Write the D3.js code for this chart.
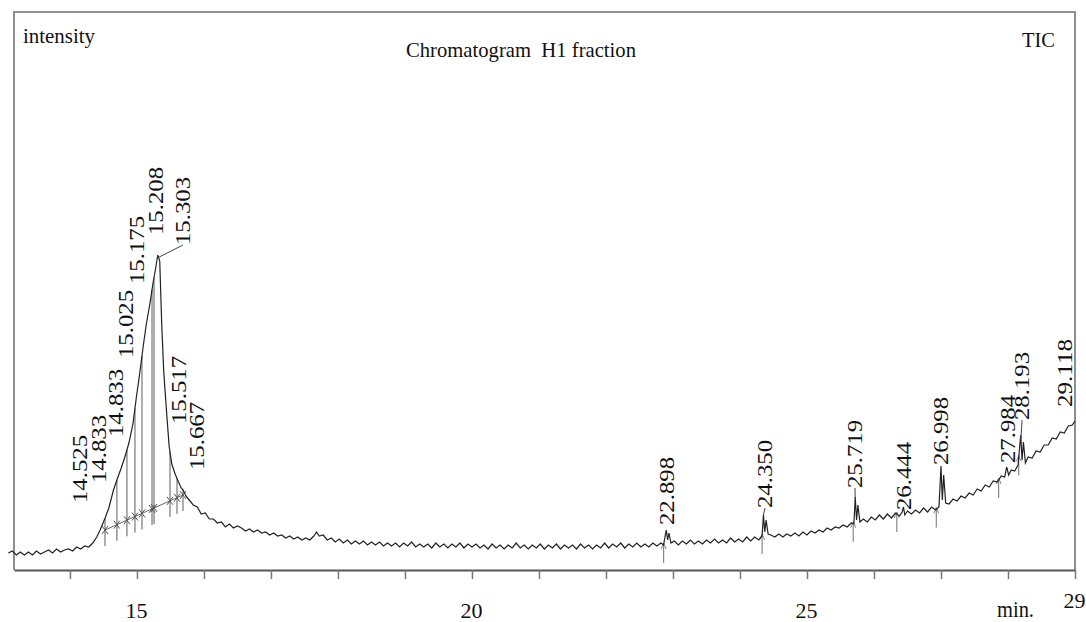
<!DOCTYPE html>
<html>
<head>
<meta charset="utf-8">
<script src="https://cdn.jsdelivr.net/npm/d3@7"></script>
<style>
  body { margin: 0; background: #fff; }
  svg { display: block; }
</style>
</head>
<body>
<svg id="chart" width="1086" height="622"></svg>
<script>
// TIC trace: [retention time (min), intensity (arb. units)]
const trace = [
  [13.08,17],[13.14,19],[13.20,15],[13.26,18],[13.32,15],[13.38,18],[13.44,15],[13.50,19],[13.56,16],[13.62,18],
  [13.68,20],[13.74,17],[13.80,21],[13.86,18],[13.92,20],[13.98,21],[14.04,19],[14.10,23],[14.16,21],[14.22,24],
  [14.28,23],[14.34,27],[14.40,33],[14.45,40],[14.50,48],[14.525,52],[14.58,62],[14.65,80],[14.70,90],[14.76,101],
  [14.82,113],[14.88,127],[14.94,146],[14.99,172],[15.04,196],[15.09,222],[15.14,246],[15.19,265],[15.24,287],[15.28,302],
  [15.31,315],[15.34,309],[15.37,245],[15.40,198],[15.44,160],[15.48,124],[15.52,106],[15.57,96],[15.62,88],[15.66,82],
  [15.69,80],[15.73,74],[15.78,70],[15.84,65],[15.90,63],[15.96,56],[16.02,57],[16.08,51],[16.14,51],[16.20,47],
  [16.26,48],[16.32,43],[16.38,46],[16.44,42],[16.50,44],[16.56,42],[16.62,39],[16.68,41],[16.74,38],[16.80,40],
  [16.86,37],[16.92,38],[16.98,35],[17.04,37],[17.10,34],[17.16,35],[17.22,32],[17.28,34],[17.34,31],[17.40,33],
  [17.46,30],[17.52,32],[17.58,30],[17.64,34],[17.68,38],[17.72,34],[17.78,35],[17.84,30],[17.90,32],[17.96,28],
  [18.02,31],[18.08,27],[18.14,30],[18.20,26],[18.26,29],[18.32,26],[18.38,29],[18.44,25],[18.50,28],[18.56,25],
  [18.62,28],[18.68,24],[18.74,27],[18.80,24],[18.86,27],[18.92,23],[18.98,27],[19.04,24],[19.10,28],[19.16,23],
  [19.22,26],[19.28,23],[19.34,26],[19.40,22],[19.46,27],[19.52,23],[19.58,26],[19.64,22],[19.70,26],[19.76,23],
  [19.82,27],[19.88,22],[19.94,26],[20.00,23],[20.06,26],[20.12,22],[20.18,25],[20.24,21],[20.30,26],[20.36,22],
  [20.42,25],[20.48,21],[20.54,25],[20.60,22],[20.66,27],[20.72,22],[20.78,25],[20.84,21],[20.90,25],[20.96,22],
  [21.02,26],[21.08,21],[21.14,25],[21.20,22],[21.26,26],[21.32,21],[21.38,25],[21.44,22],[21.50,25],[21.56,21],
  [21.62,26],[21.68,22],[21.74,25],[21.80,21],[21.86,25],[21.92,22],[21.98,27],[22.04,22],[22.10,26],[22.16,23],
  [22.22,27],[22.28,22],[22.34,26],[22.40,23],[22.46,27],[22.52,23],[22.58,26],[22.64,23],[22.70,27],[22.76,24],
  [22.82,27],[22.86,25],[22.88,33],[22.90,40],[22.92,30],[22.94,37],[22.97,27],[23.02,29],[23.08,25],[23.14,29],
  [23.20,26],[23.26,30],[23.32,26],[23.38,29],[23.44,26],[23.50,30],[23.56,27],[23.62,31],[23.68,27],[23.74,30],
  [23.80,27],[23.86,32],[23.92,28],[23.98,31],[24.04,28],[24.10,33],[24.16,29],[24.22,33],[24.28,30],[24.33,34],
  [24.35,55],[24.37,38],[24.39,50],[24.42,36],[24.46,35],[24.52,33],[24.58,36],[24.64,33],[24.70,36],[24.76,34],
  [24.82,37],[24.88,34],[24.94,38],[25.00,35],[25.06,39],[25.12,37],[25.18,40],[25.24,38],[25.30,42],[25.36,40],
  [25.42,43],[25.48,42],[25.54,45],[25.60,43],[25.66,47],[25.70,46],[25.72,73],[25.74,50],[25.76,65],[25.79,48],
  [25.84,51],[25.90,48],[25.96,53],[26.02,50],[26.08,55],[26.14,51],[26.20,56],[26.26,52],[26.32,57],[26.38,54],
  [26.42,58],[26.44,63],[26.46,55],[26.50,59],[26.56,56],[26.62,60],[26.68,57],[26.74,62],[26.80,58],[26.86,63],
  [26.92,60],[26.97,63],[27.00,104],[27.02,70],[27.04,95],[27.07,67],[27.12,66],[27.18,71],[27.24,69],[27.30,74],
  [27.36,72],[27.42,77],[27.48,75],[27.54,81],[27.60,79],[27.66,85],[27.72,83],[27.78,89],[27.84,88],[27.90,94],
  [27.95,93],[27.98,103],[28.01,95],[28.05,100],[28.10,99],[28.15,105],[28.19,135],[28.21,110],[28.23,128],[28.26,107],
  [28.30,113],[28.36,112],[28.42,119],[28.48,118],[28.54,125],[28.60,125],[28.66,132],[28.72,131],[28.78,138],[28.84,137],
  [28.90,144],[28.96,145],[29.00,149]
];

// main cluster: integration marks and the drawn integration baseline
const clusterMarks = [14.523, 14.70, 14.85, 14.97, 15.075, 15.225, 15.255, 15.493, 15.598, 15.687];
const clusterBaseTime = [14.523, 15.687];
const clusterBaseLevel = [40, 75];

// start arrows of the small peaks
const peakStarts = [22.86, 24.33, 25.69, 26.34, 26.93, 27.86, 28.16];

// peak labels and the foot of each label (time, intensity)
const peakLabels = ["14.525", "14.833", "14.833", "15.025", "15.175", "15.208", "15.303", "15.517", "15.667",
  "22.898", "24.350", "25.719", "26.444", "26.998", "27.984", "28.193", "29.118"];
const labelTime = [14.15, 14.434, 14.687, 14.837, 15.0, 15.284, 15.687, 15.628, 15.896,
  22.911, 24.374, 25.717, 26.448, 27.0, 28.0, 28.21, 28.85];
const labelLevel = [67, 87, 133, 212, 286, 335, 325, 146, 100,
  45, 62, 82, 60, 105, 107, 150, 163];
const leaderLabels = ["15.303", "24.350", "25.719", "28.193"];

const xTicks = [14, 15, 16, 17, 18, 19, 20, 21, 22, 23, 24, 25, 26, 27, 28, 29];
const xTickLabels = [15, 20, 25, 29];

const svg = d3.select("#chart");
const serif = "'Liberation Serif', 'Times New Roman', serif";

const x = d3.scaleLinear().domain([13.165, 29]).range([14, 1075]);
const y = d3.scaleLinear().domain([0, 558]).range([570, 12]);

const bis = d3.bisector((d) => d[0]).left;
function valueAt(t) {
  const i = Math.max(1, Math.min(trace.length - 1, bis(trace, t)));
  const a = trace[i - 1], b = trace[i];
  return a[1] + ((b[1] - a[1]) * (t - a[0])) / (b[0] - a[0]);
}
const baseAt = d3.scaleLinear().domain(clusterBaseTime).range(clusterBaseLevel);

// frame (top, left, right)
svg.append("path")
  .attr("d", `M14,570V12H1075V570`)
  .attr("fill", "none")
  .attr("stroke", "#8f8f8f")
  .attr("stroke-width", 2);

// bottom axis
const ax = svg.append("g")
  .attr("transform", `translate(0,${y(0)})`)
  .call(d3.axisBottom(x).tickValues(xTicks).tickSize(9).tickSizeOuter(0)
    .tickFormat((d) => (xTickLabels.includes(d) ? d : "")));
ax.select(".domain").attr("stroke", "#555").attr("stroke-width", 2.2);
ax.selectAll(".tick line").attr("stroke", "#777").attr("stroke-width", 1.5);
ax.selectAll(".tick text")
  .attr("fill", "#111")
  .attr("dy", 0)
  .attr("y", (d) => (d === 29 ? 38 : 48))
  .attr("dx", (d) => (d === 29 ? -1 : -1))
  .style("font-family", serif)
  .style("font-size", "22px");

// integration lines of the main cluster
svg.append("g")
  .selectAll("line")
  .data(clusterMarks)
  .join("line")
  .attr("x1", (d) => x(d))
  .attr("x2", (d) => x(d))
  .attr("y1", (d) => y(valueAt(d)))
  .attr("y2", (d) => y(baseAt(d)) + 16)
  .attr("stroke", "#999")
  .attr("stroke-width", 1.6);

svg.append("line")
  .attr("x1", x(clusterBaseTime[0]))
  .attr("y1", y(clusterBaseLevel[0]))
  .attr("x2", x(clusterBaseTime[1]))
  .attr("y2", y(clusterBaseLevel[1]))
  .attr("stroke", "#666")
  .attr("stroke-width", 1);

svg.append("g")
  .selectAll("path")
  .data(clusterMarks)
  .join("path")
  .attr("transform", (d) => `translate(${x(d)},${y(baseAt(d))})`)
  .attr("d", "M-3,-4L3,4M-3,4L3,-4")
  .attr("stroke", "#555")
  .attr("stroke-width", 1);

// start arrows of the small peaks
const arrows = svg.append("g")
  .selectAll("g")
  .data(peakStarts)
  .join("g")
  .attr("transform", (d) => `translate(${x(d)},${y(valueAt(d)) - 2})`);
arrows.append("line")
  .attr("y1", 0)
  .attr("y2", 20)
  .attr("stroke", "#888")
  .attr("stroke-width", 1.2);
arrows.append("path")
  .attr("d", "M-2.5,6L0,0L2.5,6")
  .attr("fill", "none")
  .attr("stroke", "#888")
  .attr("stroke-width", 1);

// the trace
svg.append("path")
  .datum(trace)
  .attr("d", d3.line().x((d) => x(d[0])).y((d) => y(d[1])))
  .attr("fill", "none")
  .attr("stroke", "#222")
  .attr("stroke-width", 1.2);

// leader lines from labels to peak tops
svg.append("g")
  .selectAll("line")
  .data(peakLabels.map((d, i) => ({ label: d, i })).filter((d) => leaderLabels.includes(d.label)))
  .join("line")
  .attr("x1", (d) => x(labelTime[d.i]))
  .attr("y1", (d) => y(labelLevel[d.i]))
  .attr("x2", (d) => x(+d.label))
  .attr("y2", (d) => y(valueAt(+d.label)))
  .attr("stroke", "#444")
  .attr("stroke-width", 1);

// peak labels, rotated
svg.append("g")
  .selectAll("text")
  .data(peakLabels)
  .join("text")
  .attr("transform", (d, i) => `translate(${x(labelTime[i])},${y(labelLevel[i])}) rotate(-90)`)
  .attr("dy", "0.35em")
  .attr("text-anchor", "start")
  .attr("textLength", 68)
  .attr("lengthAdjust", "spacingAndGlyphs")
  .attr("fill", "#111")
  .style("font-family", serif)
  .style("font-size", "20px")
  .text((d) => d);

// titles and axis names
svg.append("text")
  .attr("x", 23)
  .attr("y", 43)
  .attr("fill", "#111")
  .style("font-family", serif)
  .style("font-size", "22px")
  .attr("textLength", 72)
  .attr("lengthAdjust", "spacingAndGlyphs")
  .text("intensity");

svg.append("text")
  .attr("x", 521)
  .attr("y", 57)
  .attr("text-anchor", "middle")
  .attr("fill", "#111")
  .style("font-family", serif)
  .style("font-size", "22px")
  .style("white-space", "pre")
  .attr("textLength", 230)
  .attr("lengthAdjust", "spacingAndGlyphs")
  .text("Chromatogram  H1 fraction");

svg.append("text")
  .attr("x", 1022)
  .attr("y", 47)
  .attr("fill", "#111")
  .style("font-family", serif)
  .style("font-size", "22px")
  .attr("textLength", 33)
  .attr("lengthAdjust", "spacingAndGlyphs")
  .text("TIC");

svg.append("text")
  .attr("x", 997)
  .attr("y", 617)
  .attr("fill", "#111")
  .style("font-family", serif)
  .style("font-size", "24px")
  .attr("textLength", 37)
  .attr("lengthAdjust", "spacingAndGlyphs")
  .text("min.");
</script>
</body>
</html>
